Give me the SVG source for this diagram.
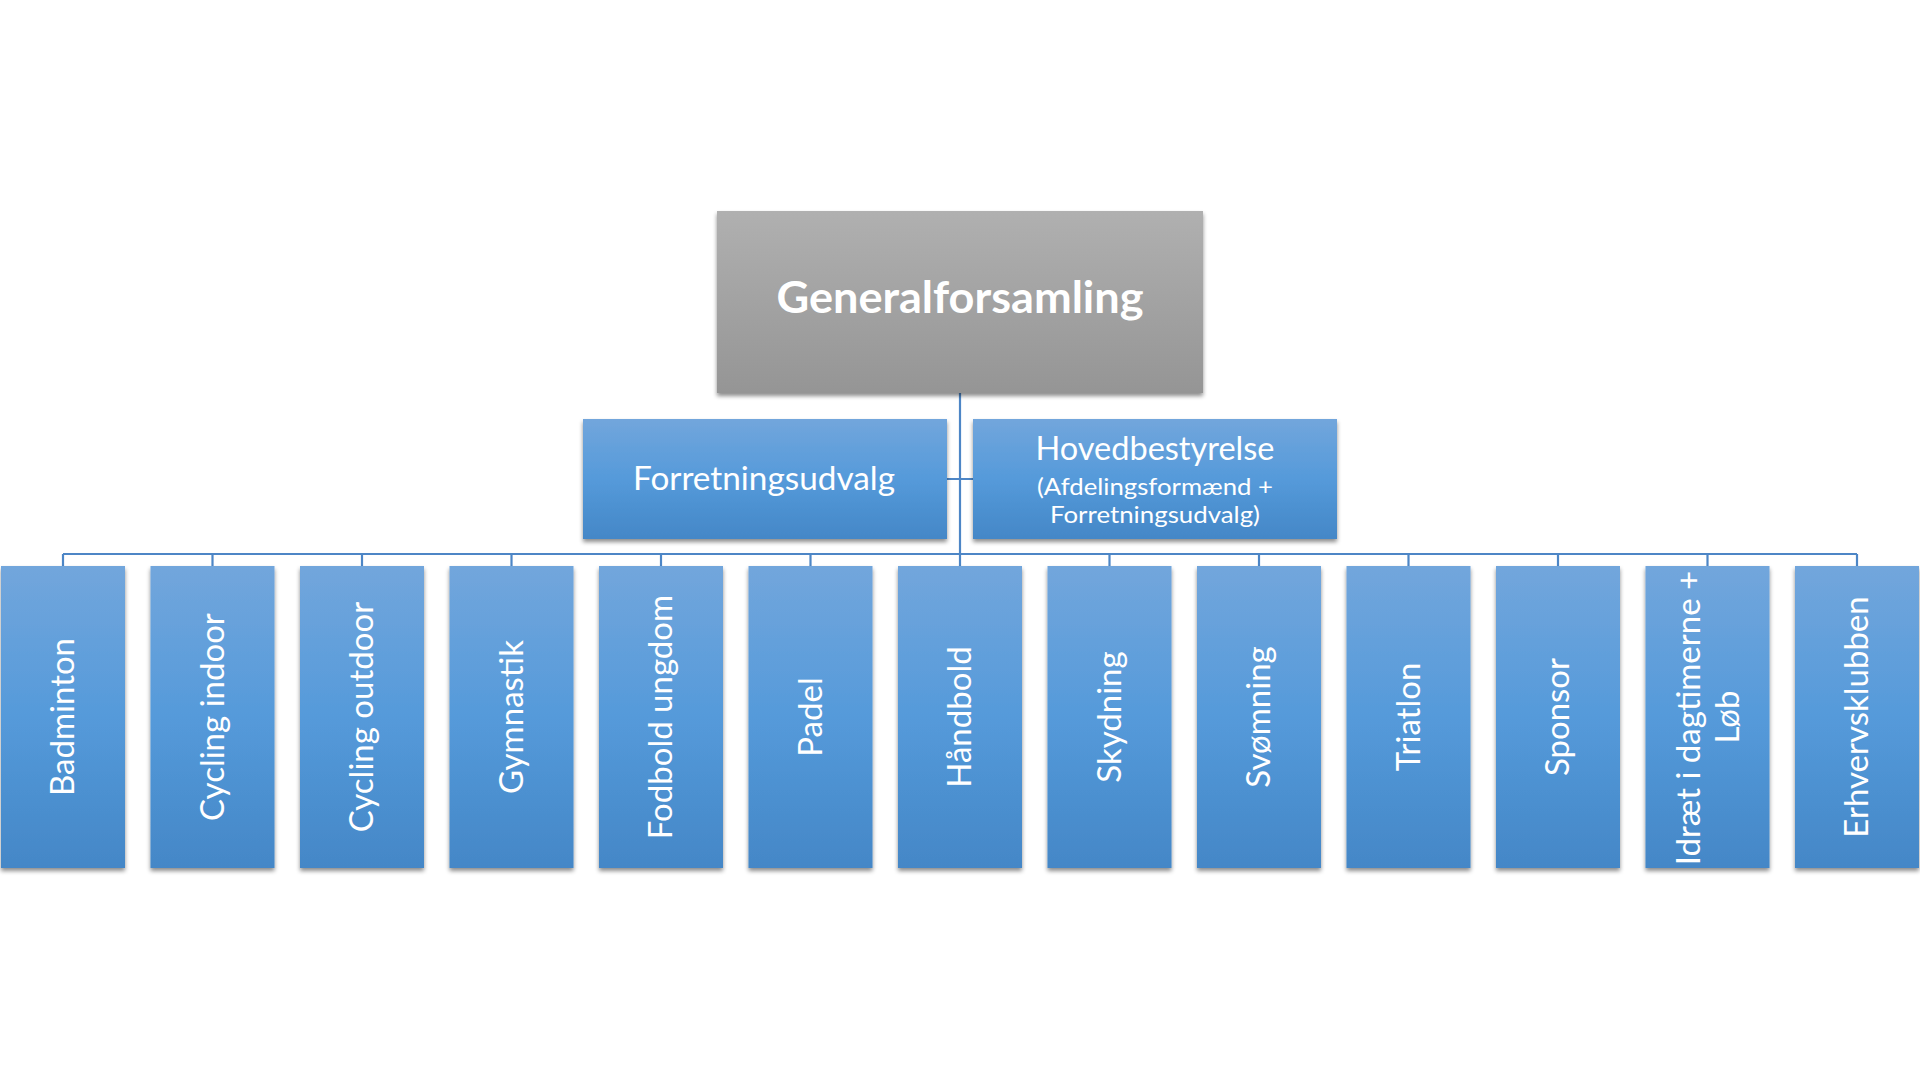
<svg xmlns="http://www.w3.org/2000/svg" width="1920" height="1080" viewBox="0 0 1920 1080">
<defs>
<linearGradient id="gBlue" x1="0" y1="0" x2="0" y2="1">
<stop offset="0" stop-color="#72a6dc"/>
<stop offset="0.5" stop-color="#559ada"/>
<stop offset="1" stop-color="#4487c7"/>
</linearGradient>
<linearGradient id="gGray" x1="0" y1="0" x2="0" y2="1">
<stop offset="0" stop-color="#b0b0b0"/>
<stop offset="1" stop-color="#959595"/>
</linearGradient>
<filter id="sh" x="-10%" y="-10%" width="120%" height="120%">
<feDropShadow dx="0" dy="3" stdDeviation="2.2" flood-color="#000" flood-opacity="0.45"/>
</filter>
</defs>
<style>
.blue{fill:url(#gBlue);filter:url(#sh)}
.gray{fill:url(#gGray);filter:url(#sh)}
.t{fill:#fff;font-family:Lato,"Open Sans","Liberation Sans",sans-serif;text-anchor:middle}
.v{font-size:33px}
.con{stroke:#4d86c6;stroke-width:2.2;fill:none}
</style>
<rect width="1920" height="1080" fill="#fff"/>
<g id="connectors" class="con">
<path d="M960 393V554M947 479H973M63 554H1857"/>
<path d="M63 554V566M212.5 554V566M362 554V566M511.5 554V566M661 554V566M810.5 554V566M960 554V566M1109.5 554V566M1259 554V566M1408.5 554V566M1558 554V566M1707.5 554V566M1857 554V566"/>
</g>
<g id="generalforsamling">
<rect class="gray" x="717" y="211" width="486" height="182"/>
<text class="t" x="960" y="313" font-size="44" font-weight="bold" textLength="367" lengthAdjust="spacingAndGlyphs">Generalforsamling</text>
</g>
<g id="forretningsudvalg">
<rect class="blue" x="583" y="419" width="364" height="120"/>
<text class="t" x="764" y="490" font-size="32" textLength="262" lengthAdjust="spacingAndGlyphs">Forretningsudvalg</text>
</g>
<g id="hovedbestyrelse">
<rect class="blue" x="973" y="419" width="364" height="120"/>
<text class="t" x="1155" y="460" font-size="32" textLength="239" lengthAdjust="spacingAndGlyphs">Hovedbestyrelse</text>
<text class="t" x="1155" y="495" font-size="23" textLength="236" lengthAdjust="spacingAndGlyphs">(Afdelingsformænd +</text>
<text class="t" x="1155" y="523" font-size="23" textLength="210" lengthAdjust="spacingAndGlyphs">Forretningsudvalg)</text>
</g>
<g id="badminton">
<rect class="blue" x="1" y="566" width="124" height="302"/>
<text class="t v" transform="translate(63 717) rotate(-90)" y="11">Badminton</text>
</g>
<g id="cycling-indoor">
<rect class="blue" x="150.5" y="566" width="124" height="302"/>
<text class="t v" transform="translate(212.5 717) rotate(-90)" y="11">Cycling indoor</text>
</g>
<g id="cycling-outdoor">
<rect class="blue" x="300" y="566" width="124" height="302"/>
<text class="t v" transform="translate(362 717) rotate(-90)" y="11">Cycling outdoor</text>
</g>
<g id="gymnastik">
<rect class="blue" x="449.5" y="566" width="124" height="302"/>
<text class="t v" transform="translate(511.5 717) rotate(-90)" y="11">Gymnastik</text>
</g>
<g id="fodbold-ungdom">
<rect class="blue" x="599" y="566" width="124" height="302"/>
<text class="t v" transform="translate(661 717) rotate(-90)" y="11">Fodbold ungdom</text>
</g>
<g id="padel">
<rect class="blue" x="748.5" y="566" width="124" height="302"/>
<text class="t v" transform="translate(810.5 717) rotate(-90)" y="11">Padel</text>
</g>
<g id="haandbold">
<rect class="blue" x="898" y="566" width="124" height="302"/>
<text class="t v" transform="translate(960 717) rotate(-90)" y="11">Håndbold</text>
</g>
<g id="skydning">
<rect class="blue" x="1047.5" y="566" width="124" height="302"/>
<text class="t v" transform="translate(1109.5 717) rotate(-90)" y="11">Skydning</text>
</g>
<g id="svoemning">
<rect class="blue" x="1197" y="566" width="124" height="302"/>
<text class="t v" transform="translate(1259 717) rotate(-90)" y="11">Svømning</text>
</g>
<g id="triatlon">
<rect class="blue" x="1346.5" y="566" width="124" height="302"/>
<text class="t v" transform="translate(1408.5 717) rotate(-90)" y="11">Triatlon</text>
</g>
<g id="sponsor">
<rect class="blue" x="1496" y="566" width="124" height="302"/>
<text class="t v" transform="translate(1558 717) rotate(-90)" y="11">Sponsor</text>
</g>
<g id="idraet">
<rect class="blue" x="1645.5" y="566" width="124" height="302"/>
<text class="t v" transform="translate(1707.5 718) rotate(-90)" y="-8">Idræt i dagtimerne +</text>
<text class="t v" transform="translate(1707.5 717) rotate(-90)" y="31">Løb</text>
</g>
<g id="erhvervsklubben">
<rect class="blue" x="1795" y="566" width="124" height="302"/>
<text class="t v" transform="translate(1857 717) rotate(-90)" y="11">Erhvervsklubben</text>
</g>
</svg>
